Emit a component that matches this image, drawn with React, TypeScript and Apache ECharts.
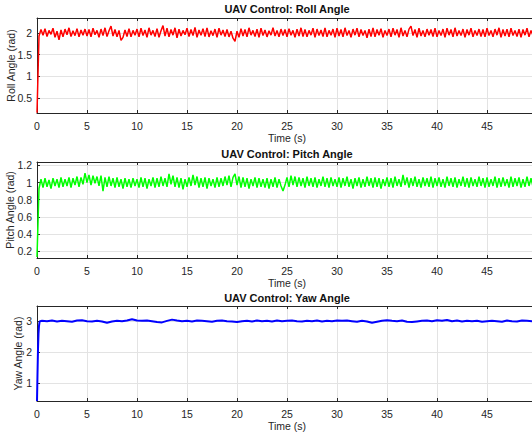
import React, { useEffect, useRef } from "react";
import * as echarts from "echarts";

const titles = ["UAV Control: Roll Angle", "UAV Control: Pitch Angle", "UAV Control: Yaw Angle"];
const yNames = ["Roll Angle (rad)", "Pitch Angle (rad)", "Yaw Angle (rad)"];
const xName = "Time (s)";
const sampleStep = 0.2;

const rollValues = [
  0.16, 1.93, 2.08, 1.95, 2.10, 1.92, 2.06, 1.97, 2.11, 1.90, 2.04, 1.84, 2.07, 1.91, 2.09, 1.96, 2.12, 1.92, 2.05, 1.94, 2.10, 1.91, 2.07, 1.95, 2.09,
  1.93, 2.08, 1.91, 2.11, 1.96, 2.06, 1.90, 2.09, 1.94, 2.12, 1.92, 2.05, 2.16, 1.93, 2.08, 1.91, 2.06, 1.83, 1.90, 2.07, 1.92, 2.10, 1.91, 2.06, 1.95,
  2.09, 1.91, 2.11, 1.94, 2.07, 1.90, 2.12, 1.95, 2.06, 1.92, 2.10, 1.90, 2.05, 2.17, 1.93, 2.11, 1.91, 2.08, 1.95, 2.12, 1.89, 2.09, 1.93, 2.06, 1.96,
  2.11, 1.92, 2.08, 1.94, 2.13, 1.90, 2.07, 1.95, 2.10, 1.92, 2.12, 1.91, 2.05, 1.94, 2.09, 1.90, 2.11, 1.95, 2.07, 1.92, 2.08, 1.91, 2.04, 1.88, 1.81,
  2.04, 1.90, 2.10, 1.93, 2.08, 1.91, 2.12, 1.95, 2.06, 1.92, 2.09, 1.90, 2.11, 1.94, 2.07, 1.91, 2.05, 1.95, 2.12, 1.93, 2.06, 1.91, 2.09, 1.94, 2.08,
  1.91, 2.10, 1.95, 2.06, 1.90, 2.09, 1.93, 2.12, 1.92, 2.08, 1.91, 2.06, 1.95, 2.11, 1.90, 2.09, 1.94, 2.07, 1.92, 2.12, 1.91, 2.06, 1.95, 2.09, 1.90,
  2.11, 1.93, 2.08, 1.91, 2.12, 1.94, 2.06, 1.90, 2.09, 1.95, 2.11, 1.91, 2.08, 1.94, 2.06, 1.89, 2.09, 1.92, 2.12, 1.91, 2.08, 1.95, 2.10, 1.90, 2.06,
  1.94, 2.09, 1.91, 2.11, 1.95, 2.08, 1.90, 2.12, 1.93, 2.06, 1.91, 2.09, 2.16, 1.94, 2.08, 1.90, 2.11, 1.93, 2.06, 1.91, 2.09, 1.95, 2.08, 1.92, 2.11,
  1.91, 2.06, 1.94, 2.09, 1.90, 2.11, 1.95, 2.08, 1.91, 2.12, 1.93, 2.06, 1.94, 2.09, 1.90, 2.08, 1.95, 2.11, 1.91, 2.06, 1.94, 2.09, 1.92, 2.08, 1.91,
  2.11, 1.94, 2.06, 1.91, 2.09, 1.95, 2.12, 1.90, 2.08, 1.93, 2.09, 1.91, 2.11, 1.94, 2.06, 1.92, 2.09, 1.90, 2.08, 1.95, 2.11, 1.91, 2.06, 1.94, 2.09, 1.96,
];

const pitchValues = [
  0.13, 0.93, 1.04, 0.94, 1.05, 0.95, 1.03, 0.93, 1.05, 0.96, 1.04, 0.94, 1.06, 0.95, 1.04, 0.96, 1.06, 0.94, 1.05, 0.97, 1.07, 0.95, 1.06, 0.98, 1.11,
  1.00, 1.09, 0.97, 1.08, 0.99, 1.07, 0.96, 1.08, 0.90, 1.06, 0.95, 1.07, 0.96, 1.05, 0.94, 1.06, 0.95, 1.04, 0.93, 1.05, 0.95, 1.04, 0.94, 1.05, 0.96,
  1.04, 0.94, 1.06, 0.95, 1.05, 0.93, 1.04, 0.96, 1.06, 0.94, 1.05, 0.95, 1.07, 0.96, 1.05, 0.95, 1.10, 0.98, 1.08, 0.95, 1.06, 0.94, 1.05, 0.92, 1.04,
  0.95, 1.06, 0.96, 1.09, 0.97, 1.07, 0.94, 1.05, 0.95, 1.06, 0.93, 1.05, 0.96, 1.04, 0.94, 1.06, 0.95, 1.05, 0.96, 1.07, 0.97, 1.08, 0.95, 1.06, 1.10,
  0.97, 1.07, 0.94, 1.06, 0.95, 1.05, 0.93, 1.04, 0.96, 1.06, 0.94, 1.05, 0.95, 1.04, 0.94, 1.05, 0.93, 1.04, 0.95, 1.06, 0.94, 1.04, 0.96, 0.90, 0.97,
  1.06, 0.95, 1.08, 0.97, 1.07, 0.95, 1.06, 0.96, 1.05, 0.94, 1.07, 0.96, 1.05, 0.95, 1.06, 0.94, 1.04, 0.96, 1.07, 0.95, 1.05, 0.94, 1.06, 0.96, 1.04,
  0.95, 1.06, 0.94, 1.05, 0.96, 1.07, 0.95, 1.04, 0.93, 1.05, 0.96, 1.06, 0.94, 1.04, 0.95, 1.07, 0.96, 1.05, 0.94, 1.06, 0.95, 1.05, 0.93, 1.04, 0.96,
  1.06, 0.95, 1.05, 0.94, 1.07, 0.96, 1.04, 0.95, 1.09, 0.97, 1.06, 0.94, 1.05, 0.96, 1.07, 0.95, 1.04, 0.94, 1.06, 0.96, 1.05, 0.95, 1.07, 0.94, 1.05,
  0.96, 1.06, 0.95, 1.04, 0.94, 1.07, 0.96, 1.05, 0.95, 1.06, 0.94, 1.04, 0.96, 1.07, 0.95, 1.05, 0.94, 1.06, 0.96, 1.04, 0.95, 1.07, 0.96, 1.05, 0.94,
  1.06, 0.95, 1.04, 0.96, 1.07, 0.94, 1.05, 0.95, 1.06, 0.96, 1.04, 0.94, 1.07, 0.95, 1.05, 0.96, 1.06, 0.94, 1.04, 0.95, 1.07, 0.96, 1.05, 0.95, 1.06, 0.97,
];

const yawStartTimes = [0, 0.05, 0.1, 0.15, 0.2, 0.25, 0.3];
const yawStartValues = [0.42, 1.3, 2.1, 2.6, 2.85, 2.96, 3.0];
const yawStep = 0.5;
const yawValues = [
  3.01, 3.0, 3.02, 2.99, 3.01, 3.0, 2.98, 3.02, 3.03, 3.0,
  2.99, 3.01, 2.99, 2.95, 2.99, 3.01, 3.0, 3.02, 3.06, 3.02,
  3.01, 3.02, 3.0, 2.97, 2.96, 3.01, 3.05, 3.02, 3.0, 3.01,
  2.99, 3.02, 3.01, 3.0, 2.98, 3.01, 3.02, 3.0, 2.99, 2.97,
  3.0, 3.01, 2.99, 3.02, 3.0, 3.01, 2.99, 3.02, 3.0, 3.01,
  3.02, 3.0, 2.99, 3.01, 3.0, 3.02, 2.99, 3.01, 3.0, 3.02,
  3.01, 3.02, 3.0, 2.98, 3.01, 2.99, 2.95, 2.98, 3.01, 3.03,
  3.01, 3.0, 3.02, 2.98, 2.97, 2.99, 3.01, 3.02, 3.0, 3.03,
  3.01, 3.04, 3.0, 3.02, 2.99, 3.01, 3.0, 3.01, 2.98, 3.0,
  3.01, 3.0, 2.98, 3.02, 3.0, 2.99, 3.02, 3.01, 3.0, 3.01,
];

const xMin = 0;
const xMax = 50;
const xInterval = 5;
const yRanges = [
  { min: 0.154, max: 2.346, interval: 0.5 },
  { min: 0.118, max: 1.24, interval: 0.2 },
  { min: 0.42, max: 3.49, interval: 1 },
];
const colors = ["#ff0000", "#00ff00", "#0000ff"];

const FONT = "'Liberation Sans', Arial, Helvetica, sans-serif";
const TXT = "#262626";
const GRIDC = "#e3e3e3";

export default function App() {
  const ref = useRef<HTMLDivElement>(null);
  useEffect(() => {
    if (!ref.current) return;
    const chart = echarts.init(ref.current, undefined, { renderer: "svg" });

    const rollData = rollValues.map((v, i) => [+(i * sampleStep).toFixed(2), v]);
    const pitchData = pitchValues.map((v, i) => [+(i * sampleStep).toFixed(2), v]);
    const yawData = yawStartTimes
      .map((t, i) => [t, yawStartValues[i]])
      .concat(yawValues.map((v, i) => [+((i + 1) * yawStep).toFixed(2), v]));

    const grids = [
      { left: 37, top: 18, width: 500, height: 95, outerBoundsMode: "none", containLabel: false },
      { left: 37, top: 162, width: 500, height: 96, outerBoundsMode: "none", containLabel: false },
      { left: 37, top: 306, width: 500, height: 95, outerBoundsMode: "none", containLabel: false },
    ];
    const titleTops = [3, 148, 292];
    const yNameGaps = [20.5, 22, 14];

    const xAxes: any[] = [];
    const yAxes: any[] = [];
    grids.forEach((_, gi) => {
      xAxes.push({
        type: "value",
        gridIndex: gi,
        position: "bottom",
        min: xMin,
        max: xMax,
        interval: xInterval,
        name: xName,
        nameLocation: "middle",
        nameGap: 19,
        nameMoveOverlap: false,
        nameTextStyle: { color: TXT, fontFamily: FONT, fontSize: 10.5 },
        axisLine: { show: true, onZero: false, lineStyle: { color: TXT, width: 1 } },
        axisTick: { show: true, inside: true, length: 3, lineStyle: { color: TXT } },
        axisLabel: { color: TXT, fontFamily: FONT, fontSize: 10.5, margin: 7, showMaxLabel: false },
        splitLine: { show: true, lineStyle: { color: GRIDC, width: 1 } },
      });
      xAxes.push({
        type: "value",
        gridIndex: gi,
        position: "top",
        min: xMin,
        max: xMax,
        interval: xInterval,
        axisLine: { show: true, onZero: false, lineStyle: { color: TXT, width: 1 } },
        axisTick: { show: true, inside: true, length: 3, lineStyle: { color: TXT } },
        axisLabel: { show: false },
        splitLine: { show: false },
      });
      const r = yRanges[gi];
      yAxes.push({
        type: "value",
        gridIndex: gi,
        min: r.min,
        max: r.max,
        minInterval: r.interval,
        maxInterval: r.interval,
        name: yNames[gi],
        nameLocation: "middle",
        nameGap: yNameGaps[gi],
        nameMoveOverlap: false,
        nameRotate: 90,
        nameTextStyle: { color: TXT, fontFamily: FONT, fontSize: 10.5 },
        axisLine: { show: true, onZero: false, lineStyle: { color: TXT, width: 1 } },
        axisTick: { show: true, inside: true, length: 3, lineStyle: { color: TXT } },
        axisLabel: { color: TXT, fontFamily: FONT, fontSize: 10.5, margin: 5, showMinLabel: false, showMaxLabel: false },
        splitLine: { show: true, lineStyle: { color: GRIDC, width: 1 } },
      });
    });

    const datasets = [rollData, pitchData, yawData];

    chart.setOption({
      animation: false,
      backgroundColor: "#ffffff",
      title: titles.map((t, i) => ({
        text: t,
        left: 287,
        top: titleTops[i],
        textAlign: "center",
        padding: 0,
        textStyle: { color: "#111111", fontFamily: FONT, fontSize: 11, fontWeight: "bold" },
      })),
      grid: grids,
      xAxis: xAxes,
      yAxis: yAxes,
      series: datasets.map((d, i) => ({
        type: "line",
        xAxisIndex: i * 2,
        yAxisIndex: i,
        data: d,
        showSymbol: false,
        symbol: "none",
        clip: true,
        lineStyle: { color: colors[i], width: i === 2 ? 2 : 1.5 },
        z: 3,
      })),
    });

    return () => chart.dispose();
  }, []);

  return (
    <div
      ref={ref}
      style={{ position: "fixed", left: 0, top: 0, width: 532, height: 439, background: "#fff" }}
    />
  );
}
